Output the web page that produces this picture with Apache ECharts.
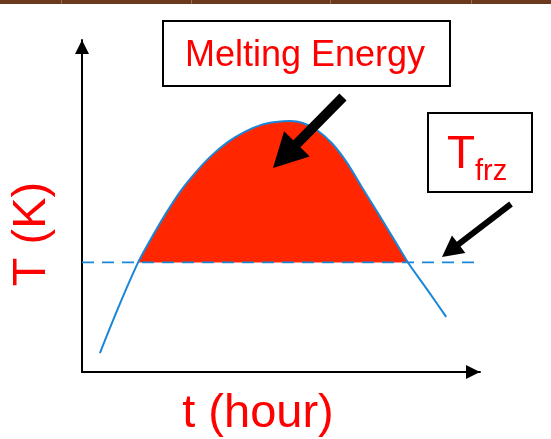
<!DOCTYPE html>
<html lang="en">
<head>
    <meta charset="UTF-8">
    <title>Melting Energy</title>
    <style>
        html, body { margin: 0; padding: 0; background: #fff; }
        #main { width: 551px; height: 439px; }
    </style>
    <script src="https://cdn.jsdelivr.net/npm/echarts@6/dist/echarts.min.js"></script>
</head>
<body>
<div id="main"></div>
<script type="text/javascript">
    // curve (t and T in arbitrary axis units 0..100)
    var tFreeze = 33.0;
    var tHour = [4.5, 9.3, 14.1, 17.1, 20.9, 24.6, 28.4, 32.2, 36.7, 41.0, 45.2, 48.7, 52.3, 55.5, 59.0, 62.8, 66.6, 70.6, 74.9, 78.6, 81.9, 86.7, 91.5];
    var tempK = [5.7, 19.9, 33.0, 39.6, 47.4, 54.2, 59.9, 64.8, 69.3, 72.4, 74.5, 75.3, 75.6, 75.0, 72.9, 68.9, 63.0, 55.1, 46.8, 39.5, 33.0, 24.9, 16.6];
    var freezeLineEnd = 99.5;

    var curve = tHour.map(function (t, i) { return [t, tempK[i]]; });
    // part of the curve above the freezing line
    var melt = curve.filter(function (p) { return p[1] >= tFreeze; });

    var red = '#ff0000';
    var font = '"Liberation Sans", Arial, sans-serif';

    // arrow polygon from tail (x1,y1) to tip (x2,y2)
    function arrow(x1, y1, x2, y2, shaft, headLen, headHalf) {
        var dx = x2 - x1, dy = y2 - y1;
        var len = Math.sqrt(dx * dx + dy * dy);
        var ux = dx / len, uy = dy / len;
        var nx = -uy, ny = ux;
        var bx = x2 - ux * headLen, by = y2 - uy * headLen;
        var s = shaft / 2;
        return [
            [x1 + nx * s, y1 + ny * s],
            [bx + nx * s, by + ny * s],
            [bx + nx * headHalf, by + ny * headHalf],
            [x2, y2],
            [bx - nx * headHalf, by - ny * headHalf],
            [bx - nx * s, by - ny * s],
            [x1 - nx * s, y1 - ny * s]
        ];
    }

    var myChart = echarts.init(document.getElementById('main'));

    var axisCommon = {
        type: 'value',
        min: 0,
        max: 100,
        axisLabel: { show: false },
        axisTick: { show: false },
        splitLine: { show: false },
        axisLine: {
            show: true,
            onZero: false,
            symbol: ['none', 'triangle'],
            symbolSize: [14, 14],
            symbolOffset: [0, -7],
            lineStyle: { color: '#000', width: 2 }
        }
    };

    // slide strip on top
    var strip = [{ type: 'rect', z: 100, shape: { x: 0, y: 0, width: 551, height: 4 }, style: { fill: '#6b3a1e' } }];
    [61, 191, 330, 471].forEach(function (x) {
        strip.push({ type: 'rect', z: 101, shape: { x: x, y: 0, width: 1, height: 4 }, style: { fill: '#a86a42' } });
    });

    var option = {
        animation: false,
        grid: { left: 82, right: 71, top: 40, bottom: 67 },
        xAxis: axisCommon,
        yAxis: echarts.util.merge({}, axisCommon),
        series: [
            {
                name: 'melt',
                type: 'line',
                data: melt,
                smooth: 0.3,
                showSymbol: false,
                lineStyle: { width: 0 },
                areaStyle: { color: '#ff2600', opacity: 1, origin: tFreeze },
                z: 1
            },
            {
                name: 'Tfrz',
                type: 'line',
                data: [[0, tFreeze], [freezeLineEnd, tFreeze]],
                showSymbol: false,
                lineStyle: { color: '#1a86d8', width: 1.8, type: [12, 8] },
                z: 2
            },
            {
                name: 'T',
                type: 'line',
                data: curve,
                smooth: 0.3,
                showSymbol: false,
                lineStyle: { color: '#1a86d8', width: 2 },
                z: 3
            }
        ],
        graphic: {
            elements: strip.concat([
                // Melting Energy callout
                { type: 'rect', z: 100, shape: { x: 163, y: 21, width: 287, height: 65 }, style: { fill: '#fff', stroke: '#000', lineWidth: 2 } },
                { type: 'text', z: 101, x: 305, y: 56, style: { text: 'Melting Energy', fill: red, font: '36px ' + font, align: 'center', verticalAlign: 'middle' } },
                { type: 'polygon', z: 100, shape: { points: arrow(343, 97, 273, 168, 10, 34, 18) }, style: { fill: '#000' } },
                // Tfrz callout
                { type: 'rect', z: 100, shape: { x: 428, y: 113, width: 104, height: 79 }, style: { fill: '#fff', stroke: '#000', lineWidth: 2 } },
                { type: 'text', z: 101, x: 447, y: 155, style: { text: 'T', fill: red, font: '46px ' + font, verticalAlign: 'middle' } },
                { type: 'text', z: 101, x: 475, y: 172, style: { text: 'frz', fill: red, font: '29px ' + font, verticalAlign: 'middle' } },
                { type: 'polygon', z: 100, shape: { points: arrow(511, 204, 442, 257, 6, 21, 11) }, style: { fill: '#000' } },
                // axis titles
                { type: 'text', z: 101, x: 32, y: 234, rotation: Math.PI / 2, style: { text: 'T (K)', fill: red, font: '47px ' + font, align: 'center', verticalAlign: 'middle' } },
                { type: 'text', z: 101, x: 258, y: 414, style: { text: 't (hour)', fill: red, font: '47px ' + font, align: 'center', verticalAlign: 'middle' } }
            ])
        }
    };
    myChart.setOption(option);
</script>
</body>
</html>
